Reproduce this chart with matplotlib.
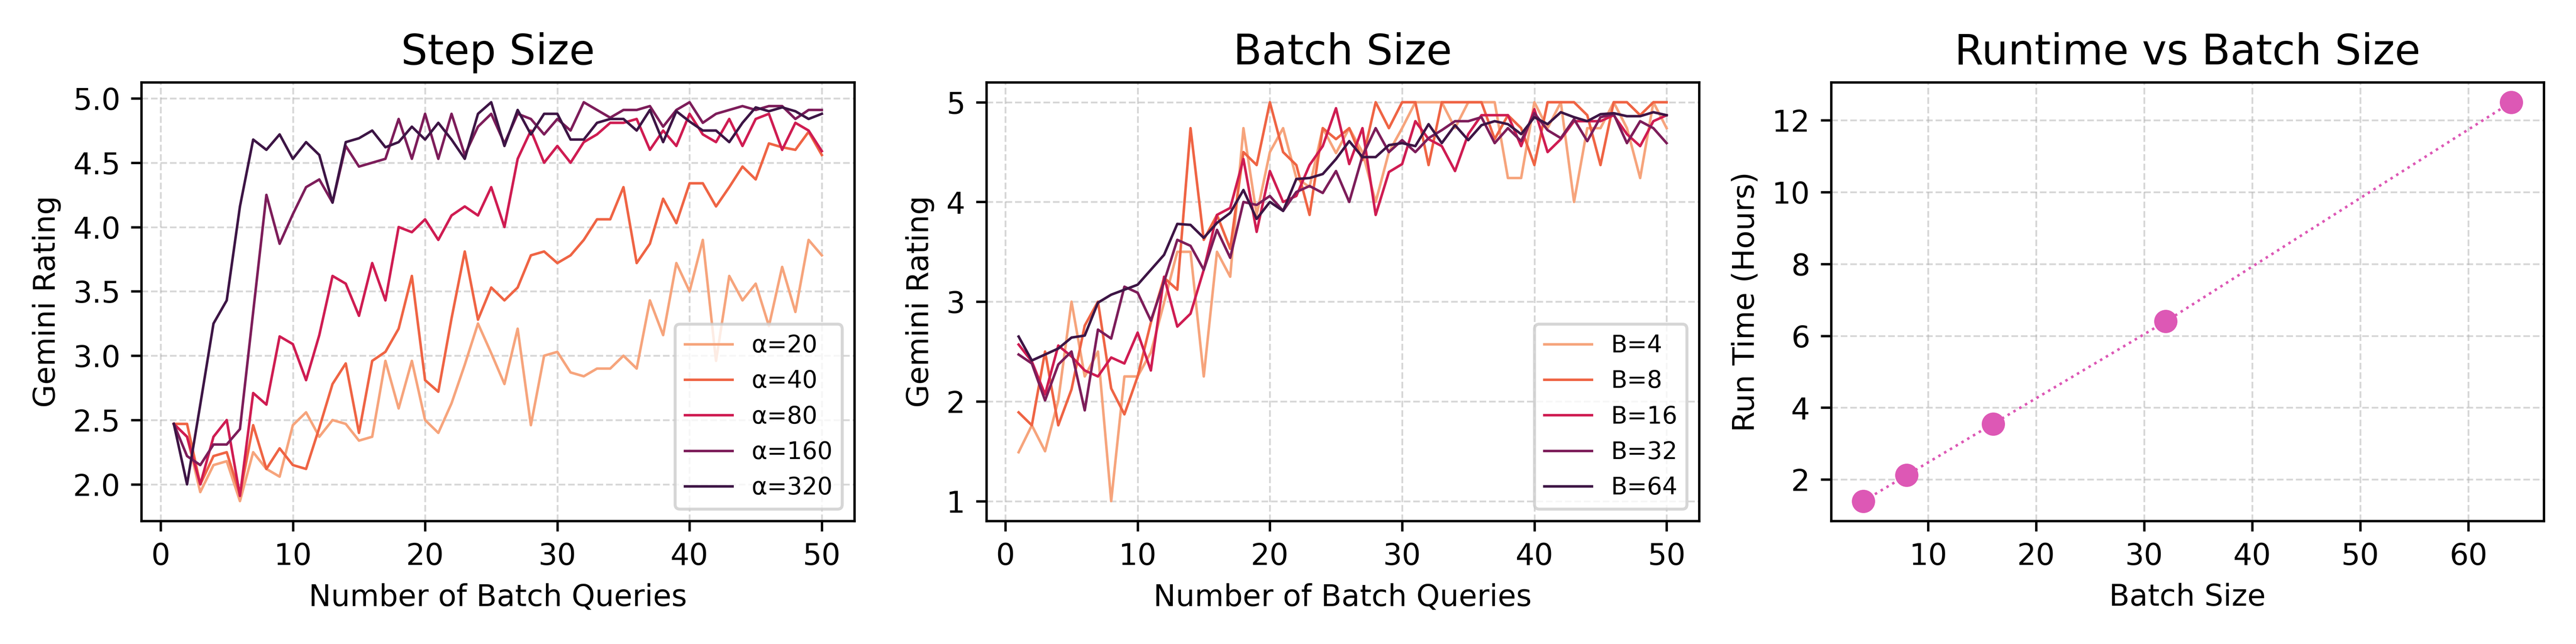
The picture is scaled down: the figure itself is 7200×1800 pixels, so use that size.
import numpy as np
import matplotlib
matplotlib.use('Agg')
import matplotlib.pyplot as plt

queries = list(range(1, 51))

# step size panel
step_labels = ['α=20', 'α=40', 'α=80', 'α=160', 'α=320']
step_a20 = [2.47, 2.37, 1.94, 2.15, 2.18, 1.87, 2.25, 2.12, 2.06, 2.46,
            2.56, 2.37, 2.50, 2.47, 2.34, 2.37, 2.96, 2.59, 2.96, 2.50,
            2.40, 2.63, 2.93, 3.25, 3.02, 2.78, 3.21, 2.46, 3.00, 3.03,
            2.87, 2.84, 2.90, 2.90, 3.00, 2.90, 3.43, 3.16, 3.72, 3.50,
            3.90, 2.96, 3.62, 3.43, 3.56, 3.23, 3.69, 3.34, 3.90, 3.78]
step_a40 = [2.47, 2.47, 2.00, 2.22, 2.25, 1.92, 2.46, 2.12, 2.28, 2.15,
            2.12, 2.44, 2.78, 2.94, 2.40, 2.96, 3.03, 3.21, 3.62, 2.81,
            2.72, 3.29, 3.81, 3.28, 3.53, 3.43, 3.53, 3.78, 3.81, 3.72,
            3.78, 3.90, 4.06, 4.06, 4.31, 3.72, 3.87, 4.22, 4.03, 4.34,
            4.34, 4.16, 4.31, 4.47, 4.37, 4.65, 4.62, 4.60, 4.74, 4.56]
step_a80 = [2.47, 2.37, 2.00, 2.37, 2.50, 1.91, 2.71, 2.62, 3.15, 3.09,
            2.81, 3.16, 3.62, 3.56, 3.31, 3.72, 3.43, 4.00, 3.96, 4.06,
            3.90, 4.09, 4.16, 4.09, 4.31, 4.00, 4.53, 4.75, 4.50, 4.63,
            4.50, 4.66, 4.72, 4.81, 4.81, 4.84, 4.60, 4.75, 4.63, 4.88,
            4.72, 4.66, 4.84, 4.63, 4.84, 4.88, 4.60, 4.81, 4.75, 4.59]
step_a160 = [2.47, 2.22, 2.15, 2.31, 2.31, 2.43, 3.34, 4.25, 3.87, 4.10,
             4.31, 4.37, 4.19, 4.63, 4.47, 4.50, 4.53, 4.84, 4.53, 4.88,
             4.53, 4.88, 4.56, 4.78, 4.88, 4.65, 4.88, 4.84, 4.72, 4.84,
             4.75, 4.97, 4.91, 4.85, 4.91, 4.91, 4.94, 4.78, 4.91, 4.97,
             4.81, 4.88, 4.91, 4.94, 4.91, 4.94, 4.94, 4.84, 4.91, 4.91]
step_a320 = [2.47, 2.00, 2.62, 3.25, 3.43, 4.16, 4.68, 4.60, 4.72, 4.53,
             4.66, 4.56, 4.19, 4.66, 4.69, 4.75, 4.62, 4.66, 4.78, 4.68,
             4.81, 4.68, 4.53, 4.88, 4.97, 4.63, 4.91, 4.72, 4.88, 4.88,
             4.68, 4.68, 4.81, 4.84, 4.84, 4.75, 4.91, 4.66, 4.90, 4.82,
             4.75, 4.75, 4.66, 4.81, 4.93, 4.90, 4.93, 4.90, 4.84, 4.88]

# batch size panel
batch_labels = ['B=4', 'B=8', 'B=16', 'B=32', 'B=64']
batch_b4 = [1.49, 1.76, 1.50, 2.01, 3.00, 2.25, 2.50, 1.00, 2.25, 2.25,
            2.49, 2.99, 3.50, 3.50, 2.25, 3.50, 3.25, 4.74, 3.87, 4.50,
            4.74, 4.24, 4.15, 4.74, 4.49, 4.74, 4.50, 4.00, 4.50, 4.74,
            5.00, 5.00, 5.00, 4.74, 5.00, 5.00, 5.00, 4.24, 4.24, 5.00,
            4.74, 5.00, 4.00, 4.74, 4.74, 5.00, 4.74, 4.24, 5.00, 4.74]
batch_b8 = [1.89, 1.76, 2.50, 1.76, 2.12, 2.76, 3.00, 2.13, 1.87, 2.25,
            2.79, 3.24, 3.12, 4.74, 3.62, 3.87, 3.53, 4.50, 4.37, 5.00,
            4.50, 4.37, 3.87, 4.74, 4.63, 4.74, 4.42, 5.00, 4.74, 5.00,
            5.00, 4.37, 5.00, 5.00, 5.00, 5.00, 4.63, 4.87, 4.74, 4.37,
            5.00, 5.00, 5.00, 4.87, 4.37, 5.00, 5.00, 4.87, 5.00, 5.00]
batch_b16 = [2.57, 2.40, 2.07, 2.56, 2.45, 2.31, 2.25, 2.44, 2.38, 2.69,
             2.31, 3.25, 2.75, 2.88, 3.32, 3.87, 3.94, 4.43, 3.70, 4.31,
             4.00, 4.06, 4.37, 4.56, 4.94, 4.38, 4.74, 3.87, 4.30, 4.38,
             4.81, 4.63, 4.56, 4.31, 4.68, 4.87, 4.87, 4.87, 4.56, 4.93,
             4.50, 4.63, 4.81, 4.81, 4.81, 4.87, 4.68, 4.56, 4.81, 4.87]
batch_b32 = [2.47, 2.38, 2.01, 2.37, 2.50, 1.91, 2.72, 2.63, 3.15, 3.09,
             2.81, 3.20, 3.62, 3.56, 3.32, 3.72, 3.44, 4.00, 3.97, 4.06,
             3.91, 4.10, 4.16, 4.09, 4.31, 4.00, 4.46, 4.74, 4.50, 4.62,
             4.50, 4.64, 4.72, 4.81, 4.81, 4.85, 4.59, 4.74, 4.61, 4.89,
             4.72, 4.64, 4.83, 4.61, 4.85, 4.88, 4.59, 4.81, 4.74, 4.59]
batch_b64 = [2.65, 2.41, 2.47, 2.53, 2.64, 2.66, 2.99, 3.07, 3.12, 3.17,
             3.32, 3.47, 3.78, 3.77, 3.64, 3.79, 3.89, 4.12, 3.83, 4.00,
             3.91, 4.23, 4.24, 4.28, 4.43, 4.61, 4.45, 4.45, 4.57, 4.59,
             4.56, 4.78, 4.59, 4.77, 4.62, 4.77, 4.81, 4.78, 4.68, 4.85,
             4.78, 4.90, 4.85, 4.81, 4.88, 4.89, 4.86, 4.86, 4.90, 4.87]

# runtime panel
batch_sizes = [4, 8, 16, 32, 64]
run_hours = [1.4, 2.12, 3.55, 6.4, 12.5]

line_colors = ['#f6a47c', '#ef6444', '#cf1c52', '#7d1d5a', '#3d1545']

fig, axes = plt.subplots(1, 3, figsize=(12, 3), dpi=600)

ax = axes[0]
for vals, lab, col in zip([step_a20, step_a40, step_a80, step_a160, step_a320], step_labels, line_colors):
    ax.plot(queries, vals, color=col, lw=0.85, label=lab)
ax.set_title('Step Size', fontsize=14)
ax.set_xlabel('Number of Batch Queries')
ax.set_ylabel('Gemini Rating')
ax.grid(True, linestyle='--', linewidth=0.6, alpha=0.5)
ax.legend(loc='lower right', fontsize=8)

ax = axes[1]
for vals, lab, col in zip([batch_b4, batch_b8, batch_b16, batch_b32, batch_b64], batch_labels, line_colors):
    ax.plot(queries, vals, color=col, lw=0.85, label=lab)
ax.set_title('Batch Size', fontsize=14)
ax.set_xlabel('Number of Batch Queries')
ax.set_ylabel('Gemini Rating')
ax.grid(True, linestyle='--', linewidth=0.6, alpha=0.5)
ax.legend(loc='lower right', fontsize=8)

ax = axes[2]
ax.plot(batch_sizes, run_hours, marker='o', linestyle=':', color='#dd58b5', lw=0.85, markersize=6.8)
ax.set_title('Runtime vs Batch Size', fontsize=14)
ax.set_xlabel('Batch Size')
ax.set_ylabel('Run Time (Hours)')
ax.grid(True, linestyle='--', linewidth=0.6, alpha=0.5)

plt.tight_layout()
plt.savefig('out.png')
